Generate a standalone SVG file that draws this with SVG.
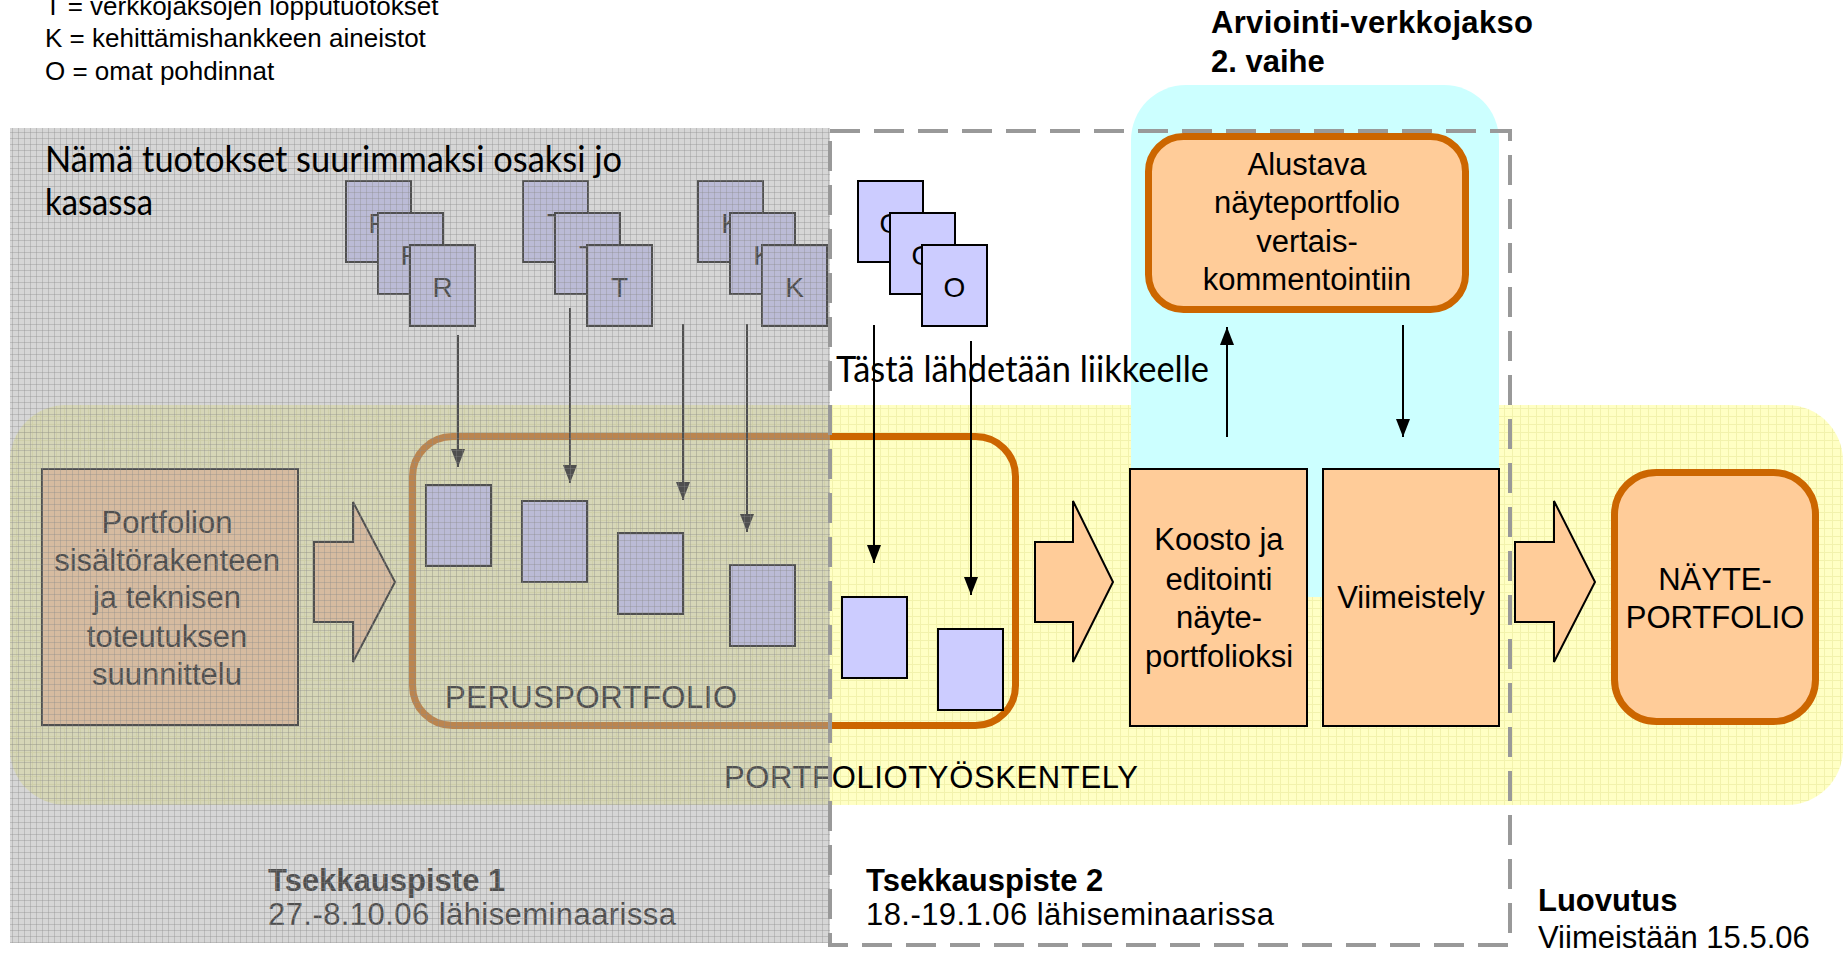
<svg xmlns="http://www.w3.org/2000/svg" width="1843" height="953" viewBox="0 0 1843 953">
<defs>
<style>
.t{font-family:"Liberation Sans",Arial,sans-serif;fill:#000;font-size:31px}
.c{text-anchor:middle}
.b{font-weight:bold}
.lg{font-size:26px}
.g{font-family:Lato,"Open Sans",sans-serif;fill:#000;font-size:36px}
.doc{fill:#ccccff;stroke:#000;stroke-width:2}
.peach{fill:#ffcc99;stroke:#000;stroke-width:2}
.orng{fill:#ffcc99;stroke:#cc6600;stroke-width:7}
.con{stroke:#000;stroke-width:2;fill:none;marker-end:url(#ah)}
.lt{font-size:28px}
</style>
<pattern id="yg" width="8" height="8" patternUnits="userSpaceOnUse"><rect width="8" height="8" fill="#ffffc4"/><path d="M0 0.5H8M0.5 0V8" stroke="#f2f2ac" stroke-width="1"/></pattern>
<pattern id="gg" width="6" height="6" patternUnits="userSpaceOnUse"><path d="M0 0.5H6M0.5 0V6" stroke="#888" stroke-width="1" stroke-opacity="0.35"/></pattern>
<marker id="ah" markerUnits="userSpaceOnUse" markerWidth="18" markerHeight="14" refX="18" refY="7" orient="auto"><path d="M0,0 L18,7 L0,14 Z" fill="#000"/></marker>
</defs>
<rect width="1843" height="953" fill="#fff"/>

<g id="legend">
<text class="t lg" x="45" y="15">T = verkkojaksojen lopputuotokset</text>
<text class="t lg" x="45" y="47">K = kehittämishankkeen aineistot</text>
<text class="t lg" x="45" y="80">O = omat pohdinnat</text>
</g>

<g id="portfoliotyoskentely">
<rect x="10" y="405" width="1833" height="400" rx="56" fill="url(#yg)"/>
<text class="t" x="724" y="788" textLength="414">PORTFOLIOTYÖSKENTELY</text>
</g>

<g id="arviointi">
<path d="M1131,597 V140 A55,55 0 0 1 1186,85 H1444 A55,55 0 0 1 1499,140 V597 Z" fill="#ccffff"/>
<text class="t b" x="1211" y="33" textLength="322">Arviointi-verkkojakso</text>
<text class="t b" x="1211" y="72">2. vaihe</text>
</g>

<g id="suunnittelu">
<rect class="peach" x="42" y="469" width="256" height="256"/>
<text class="t c" x="167" y="533">Portfolion</text>
<text class="t c" x="167" y="571">sisältörakenteen</text>
<text class="t c" x="167" y="608">ja teknisen</text>
<text class="t c" x="167" y="647">toteutuksen</text>
<text class="t c" x="167" y="685">suunnittelu</text>
</g>

<g id="arrow1"><polygon class="peach" points="314,542 353,542 353,502 395,582 353,662 353,622 314,622"/></g>
<g id="arrow2"><polygon class="peach" points="1035,542 1073,542 1073,501 1113,582 1073,662 1073,622 1035,622"/></g>
<g id="arrow3"><polygon class="peach" points="1515,542 1554,542 1554,501 1595,582 1554,662 1554,622 1515,622"/></g>

<g id="perusportfolio">
<rect x="412.5" y="436.5" width="603" height="289" rx="40" fill="none" stroke="#cc6600" stroke-width="7"/>
<rect class="doc" x="426" y="485" width="65" height="81"/>
<rect class="doc" x="522" y="501" width="65" height="81"/>
<rect class="doc" x="618" y="533" width="65" height="81"/>
<rect class="doc" x="730" y="565" width="65" height="81"/>
<rect class="doc" x="842" y="597" width="65" height="81"/>
<rect class="doc" x="938" y="629" width="65" height="81"/>
<text class="t" x="445" y="708" textLength="292">PERUSPORTFOLIO</text>
</g>

<g id="docs-R">
<rect class="doc" x="346" y="181" width="65" height="81"/><text class="t c lt" x="378.5" y="233">R</text>
<rect class="doc" x="378" y="213" width="65" height="81"/><text class="t c lt" x="410.5" y="265">R</text>
<rect class="doc" x="410" y="245" width="65" height="81"/><text class="t c lt" x="442.5" y="297">R</text>
</g>
<g id="docs-T">
<rect class="doc" x="523" y="181" width="65" height="81"/><text class="t c lt" x="555.5" y="233">T</text>
<rect class="doc" x="555" y="213" width="65" height="81"/><text class="t c lt" x="587.5" y="265">T</text>
<rect class="doc" x="587" y="245" width="65" height="81"/><text class="t c lt" x="619.5" y="297">T</text>
</g>
<g id="docs-K">
<rect class="doc" x="698" y="181" width="65" height="81"/><text class="t c lt" x="730.5" y="233">K</text>
<rect class="doc" x="730" y="213" width="65" height="81"/><text class="t c lt" x="762.5" y="265">K</text>
<rect class="doc" x="762" y="245" width="65" height="81"/><text class="t c lt" x="794.5" y="297">K</text>
</g>
<g id="docs-O">
<rect class="doc" x="858" y="181" width="65" height="81"/><text class="t c lt" x="890.5" y="233">O</text>
<rect class="doc" x="890" y="213" width="65" height="81"/><text class="t c lt" x="922.5" y="265">O</text>
<rect class="doc" x="922" y="245" width="65" height="81"/><text class="t c lt" x="954.5" y="297">O</text>
</g>

<g id="alustava">
<rect class="orng" x="1148.5" y="136.5" width="317" height="173" rx="35"/>
<text class="t c" x="1307" y="175">Alustava</text>
<text class="t c" x="1307" y="213">näyteportfolio</text>
<text class="t c" x="1307" y="252">vertais-</text>
<text class="t c" x="1307" y="290">kommentointiin</text>
</g>

<g id="koosto">
<rect class="peach" x="1130" y="469" width="177" height="257"/>
<text class="t c" x="1219" y="550">Koosto ja</text>
<text class="t c" x="1219" y="590">editointi</text>
<text class="t c" x="1219" y="628">näyte-</text>
<text class="t c" x="1219" y="667">portfolioksi</text>
</g>

<g id="viimeistely">
<rect class="peach" x="1323" y="469" width="176" height="257"/>
<text class="t c" x="1411" y="608">Viimeistely</text>
</g>

<g id="nayteportfolio">
<rect class="orng" x="1614.5" y="472.5" width="201" height="249" rx="42"/>
<text class="t c" x="1715" y="590">NÄYTE-</text>
<text class="t c" x="1715" y="628">PORTFOLIO</text>
</g>

<g id="liikkeelle">
<text class="g" x="836" y="382" textLength="373" lengthAdjust="spacingAndGlyphs">Tästä lähdetään liikkeelle</text>
</g>

<g id="connectors">
<line class="con" x1="458" y1="335" x2="458" y2="467"/>
<line class="con" x1="570" y1="308" x2="570" y2="483"/>
<line class="con" x1="683" y1="324" x2="683" y2="500"/>
<line class="con" x1="747" y1="324" x2="747" y2="532"/>
<line class="con" x1="874" y1="325" x2="874" y2="563"/>
<line class="con" x1="971" y1="341" x2="971" y2="595"/>
<line class="con" x1="1227" y1="437" x2="1227" y2="327"/>
<line class="con" x1="1403" y1="325" x2="1403" y2="437"/>
</g>

<g id="tsekkaus1">
<text class="t b" x="268" y="891">Tsekkauspiste 1</text>
<text class="t" x="268" y="925" textLength="408">27.-8.10.06 lähiseminaarissa</text>
</g>

<rect x="10" y="128" width="820" height="815" fill="#a8a8a8" fill-opacity="0.47"/>
<rect x="10" y="128" width="820" height="815" fill="url(#gg)"/>

<g id="tsekkaus2">
<rect x="830" y="131" width="680" height="814" fill="none" stroke="#999" stroke-width="4" stroke-dasharray="30 14"/>
<text class="t b" x="866" y="891">Tsekkauspiste 2</text>
<text class="t" x="866" y="925" textLength="408">18.-19.1.06 lähiseminaarissa</text>
</g>

<g id="luovutus">
<text class="t b" x="1538" y="911">Luovutus</text>
<text class="t" x="1538" y="948">Viimeistään 15.5.06</text>
</g>

<g id="kasassa">
<text class="g" x="45" y="172" textLength="577" lengthAdjust="spacingAndGlyphs">Nämä tuotokset suurimmaksi osaksi jo</text>
<text class="g" x="45" y="215" textLength="108" lengthAdjust="spacingAndGlyphs">kasassa</text>
</g>
</svg>
